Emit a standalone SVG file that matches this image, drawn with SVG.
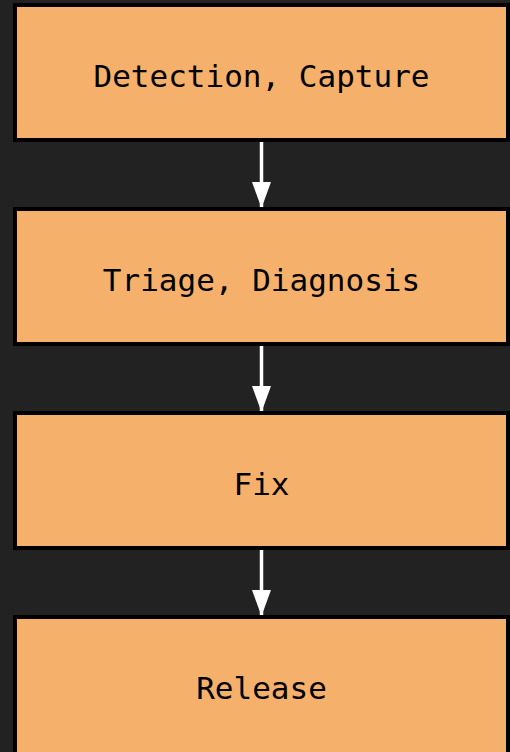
<svg xmlns="http://www.w3.org/2000/svg" width="510" height="752" viewBox="0 0 510 752">
<defs>
<style>
.box{fill:#F5B06B;stroke:#000;stroke-width:4}
.lbl{font-family:"DejaVu Sans Mono","Liberation Mono",monospace;font-size:31px;fill:#000;text-anchor:middle}
.edge{stroke:#fff;stroke-width:3.5;fill:none}
</style>
<marker id="ah" markerUnits="userSpaceOnUse" markerWidth="26" markerHeight="19" refX="26" refY="9.5" orient="auto" viewBox="0 0 26 19">
<path d="M0,0 L26,9.5 L0,19 Z" fill="#fff"/>
</marker>
</defs>
<rect width="510" height="752" fill="#222222"/>
<g id="connectors">
<line class="edge" x1="261.5" y1="142" x2="261.5" y2="208" marker-end="url(#ah)"/>
<line class="edge" x1="261.5" y1="346" x2="261.5" y2="412" marker-end="url(#ah)"/>
<line class="edge" x1="261.5" y1="550" x2="261.5" y2="616" marker-end="url(#ah)"/>
</g>
<g id="detection">
<rect class="box" x="15" y="5" width="493" height="135"/>
<text class="lbl" x="261.5" y="87">Detection, Capture</text>
</g>
<g id="triage">
<rect class="box" x="15" y="209" width="493" height="135"/>
<text class="lbl" x="261.5" y="291">Triage, Diagnosis</text>
</g>
<g id="fix">
<rect class="box" x="15" y="413" width="493" height="135"/>
<text class="lbl" x="261.5" y="495">Fix</text>
</g>
<g id="release">
<rect class="box" x="15" y="617" width="493" height="137"/>
<text class="lbl" x="261.5" y="699">Release</text>
</g>
</svg>
